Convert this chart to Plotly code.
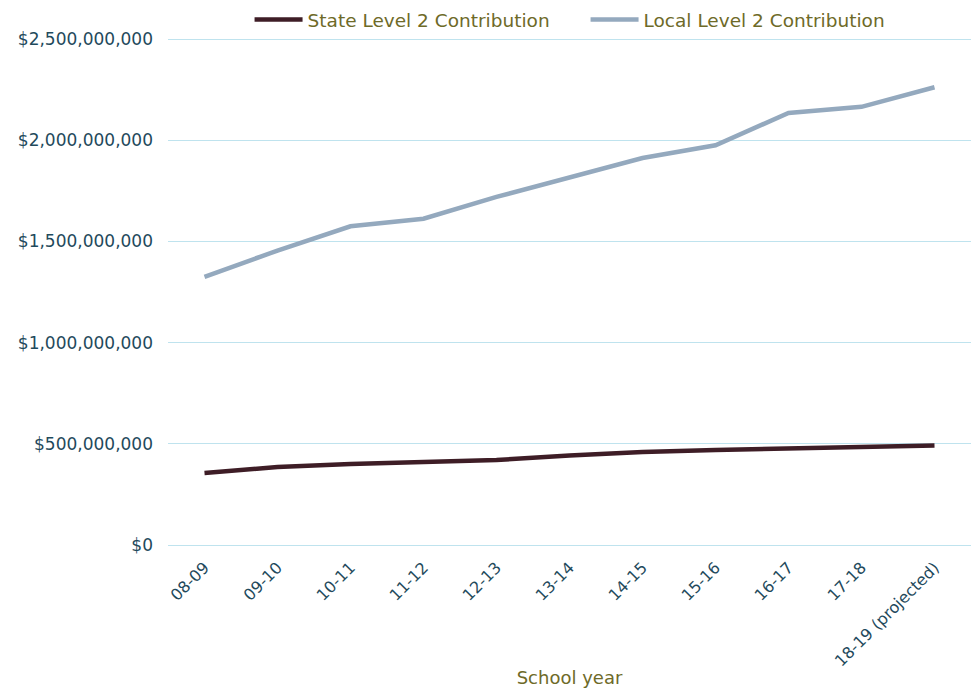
import plotly.graph_objects as go

# School years on the x axis
school_years = ["08-09", "09-10", "10-11", "11-12", "12-13", "13-14",
                "14-15", "15-16", "16-17", "17-18", "18-19 (projected)"]

# Level 2 contributions, in dollars
state_level2 = [356e6, 385e6, 400e6, 410e6, 420e6, 442e6,
                460e6, 470e6, 478e6, 485e6, 492e6]
local_level2 = [1325e6, 1455e6, 1575e6, 1612e6, 1720e6, 1815e6,
                1912e6, 1975e6, 2135e6, 2165e6, 2262e6]

y_ticks = [0, 500e6, 1000e6, 1500e6, 2000e6, 2500e6]
y_tick_text = ["$0", "$500,000,000", "$1,000,000,000", "$1,500,000,000",
               "$2,000,000,000", "$2,500,000,000"]

FONT = "DejaVu Sans"
TICK_COLOR = "#1f4a5c"
OLIVE = "#6e6a28"
GRID = "#bfe3ee"

fig = go.Figure()
fig.add_trace(go.Scatter(
    x=school_years, y=state_level2, mode="lines",
    name="State Level 2 Contribution",
    line=dict(color="#3e1d26", width=4.5),
))
fig.add_trace(go.Scatter(
    x=school_years, y=local_level2, mode="lines",
    name="Local Level 2 Contribution",
    line=dict(color="#94a9be", width=4.5),
))

fig.update_layout(
    width=971, height=688,
    margin=dict(l=168, r=0, t=35, b=143, autoexpand=False),
    paper_bgcolor="white", plot_bgcolor="white",
    font=dict(family=FONT, size=16, color=TICK_COLOR),
    showlegend=True,
    legend=dict(
        orientation="h", x=0.52, xanchor="center",
        yref="container", y=1 - 1 / 688, yanchor="top",
        font=dict(family=FONT, size=18.5, color=OLIVE),
        itemwidth=48, traceorder="normal",
        entrywidth=273, entrywidthmode="pixels",
    ),
    xaxis=dict(
        type="category", range=[-0.5, 10.5],
        tickangle=-45, showgrid=False, showline=False, zeroline=False,
        ticks="outside", ticklen=6, tickcolor="rgba(0,0,0,0)",
        tickfont=dict(family=FONT, size=16, color=TICK_COLOR),
        title=dict(text="School year", standoff=8,
                   font=dict(family=FONT, size=18, color=OLIVE)),
    ),
    yaxis=dict(
        range=[0, 2.52e9], tickvals=y_ticks, ticktext=y_tick_text,
        showgrid=True, gridcolor=GRID, gridwidth=1.2,
        zeroline=True, zerolinecolor=GRID, zerolinewidth=1.2,
        showline=False, ticklabelstandoff=14,
        tickfont=dict(family=FONT, size=17, color=TICK_COLOR),
    ),
)

fig.write_html("out.html")
